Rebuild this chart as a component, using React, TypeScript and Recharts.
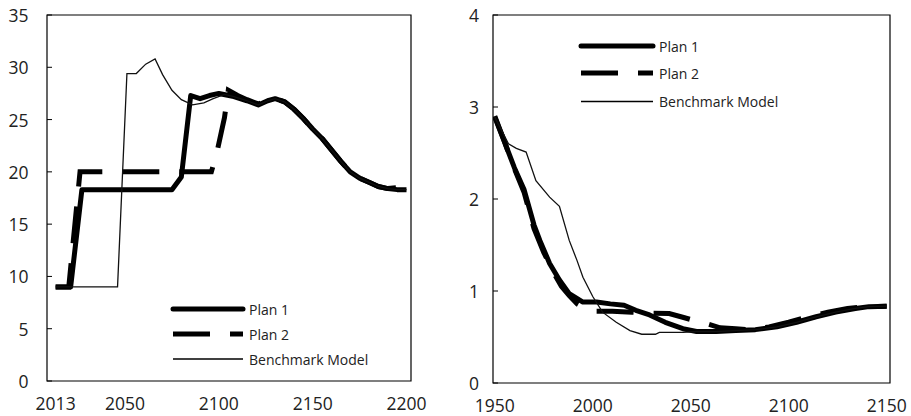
import React from "react";
import { LineChart, Line, XAxis, YAxis, Legend, ReferenceArea } from "recharts";

const FONT = "'Open Sans', sans-serif";

// left panel (2013-2200)
const leftXTicks = [2013, 2050, 2100, 2150, 2200];
const leftYTicks = [0, 5, 10, 15, 20, 25, 30, 35];

const leftPlan1Years = [2013, 2021, 2027, 2075, 2080, 2085, 2090, 2095, 2100, 2108, 2115, 2121, 2126, 2130, 2135, 2140, 2145, 2150, 2155, 2160, 2165, 2170, 2175, 2180, 2185, 2190, 2195, 2200];
const leftPlan1Values = [9, 9, 18.3, 18.3, 19.5, 27.3, 27.0, 27.3, 27.5, 27.2, 26.8, 26.4, 26.8, 27.0, 26.7, 26.0, 25.1, 24.1, 23.2, 22.1, 21.0, 20.0, 19.4, 19.0, 18.6, 18.4, 18.3, 18.3];

const leftPlan2Years = [2013, 2020, 2026, 2096, 2099, 2103, 2105, 2110, 2115, 2121, 2126, 2130, 2135, 2140, 2145, 2150, 2155, 2160, 2165, 2170, 2175, 2180, 2185, 2190, 2196];
const leftPlan2Values = [9, 9, 20, 20, 21.9, 25.2, 27.8, 27.3, 26.9, 26.5, 26.8, 27.0, 26.7, 26.0, 25.1, 24.1, 23.2, 22.1, 21.0, 20.0, 19.4, 19.0, 18.6, 18.4, 18.5];

const leftBenchYears = [2013, 2046, 2051, 2056, 2061, 2066, 2070, 2075, 2080, 2086, 2092, 2097, 2103, 2108, 2115, 2121, 2126, 2130, 2135, 2140, 2145, 2150, 2155, 2160, 2165, 2170, 2175, 2180, 2185, 2190, 2195, 2200];
const leftBenchValues = [9, 9, 29.4, 29.4, 30.3, 30.8, 29.3, 27.8, 26.9, 26.4, 26.6, 27.0, 27.4, 27.2, 26.8, 26.4, 26.8, 27.0, 26.7, 26.0, 25.1, 24.1, 23.2, 22.1, 21.0, 20.0, 19.4, 19.0, 18.6, 18.4, 18.3, 18.3];

// right panel (1950-2150)
const rightXTicks = [1950, 2000, 2050, 2100, 2150];
const rightYTicks = [0, 1, 2, 3, 4];

const rightPlan1Years = [1950, 1955, 1960, 1965, 1970, 1973, 1978, 1983, 1988, 1995, 2002, 2009, 2016, 2022, 2029, 2037, 2046, 2053, 2063, 2073, 2083, 2094, 2104, 2114, 2124, 2134, 2141, 2150];
const rightPlan1Values = [2.89, 2.62, 2.34, 2.1, 1.72, 1.55, 1.3, 1.12, 0.97, 0.88, 0.88, 0.86, 0.845, 0.79, 0.74, 0.66, 0.59, 0.56, 0.56, 0.57, 0.58, 0.61, 0.66, 0.72, 0.77, 0.81, 0.83, 0.835];

const rightPlan2Years = [1950, 1955, 1960, 1965, 1970, 1975, 1980, 1984, 1988, 1992, 1996, 2000, 2010, 2020, 2028, 2039, 2045, 2050, 2058, 2065, 2073, 2080, 2090, 2100, 2110, 2120, 2130, 2140, 2150];
const rightPlan2Values = [2.9, 2.62, 2.33, 2.07, 1.68, 1.42, 1.2, 1.05, 0.95, 0.86, 0.81, 0.78, 0.78, 0.77, 0.76, 0.755, 0.72, 0.69, 0.645, 0.6, 0.59, 0.58, 0.61, 0.66, 0.72, 0.77, 0.81, 0.83, 0.835];

const rightBenchYears = [1950, 1957, 1961, 1966, 1971, 1978, 1983, 1988, 1992, 1995, 2000, 2005, 2012, 2019, 2025, 2032, 2034, 2046, 2053, 2063, 2073, 2083, 2094, 2104, 2114, 2124, 2134, 2141, 2150];
const rightBenchValues = [2.89, 2.6, 2.55, 2.51, 2.2, 2.02, 1.92, 1.55, 1.33, 1.15, 0.94, 0.77, 0.66, 0.57, 0.53, 0.53, 0.55, 0.55, 0.56, 0.56, 0.57, 0.58, 0.61, 0.66, 0.72, 0.77, 0.81, 0.83, 0.835];

const SERIES = [
  { name: "Plan 1", width: 5, dash: undefined, cap: "round" },
  { name: "Plan 2", width: 5, dash: "37 20", cap: "butt" },
  { name: "Benchmark Model", width: 1.3, dash: undefined, cap: "butt" },
];

const toPoints = (xs: number[], ys: number[]) => xs.map((x, i) => ({ x, y: ys[i] }));

function LegendBox({ rowYs, lineLen }: { rowYs: number[]; lineLen: number }) {
  return (
    <svg width={lineLen + 130} height={80} style={{ overflow: "visible", display: "block" }}>
      {SERIES.map((s, i) => (
        <g key={s.name}>
          <line
            x1={3}
            x2={lineLen}
            y1={rowYs[i]}
            y2={rowYs[i]}
            stroke="#000"
            strokeWidth={s.width}
            strokeDasharray={s.dash}
            strokeLinecap={s.cap as any}
          />
          <text x={lineLen + 6} y={rowYs[i]} dominantBaseline="central" fontSize={14} fontFamily={FONT} fill="#222">
            {s.name}
          </text>
        </g>
      ))}
    </svg>
  );
}

// y tick: label plus a short inside tick mark
function YTick(props: any) {
  const { x, y, payload, margin } = props;
  const axisX = x + margin;
  return (
    <g>
      <line x1={axisX} x2={axisX + 5} y1={y} y2={y} stroke="#000" strokeWidth={1} />
      <text x={x} y={y} dy="0.4em" textAnchor="end" fontSize={17.5} fontFamily={FONT} fill="#222">
        {payload.value}
      </text>
    </g>
  );
}

interface PanelProps {
  width: number;
  margin: { top: number; right: number; bottom: number; left: number };
  yWidth: number;
  xHeight: number;
  xDomain: [number, number];
  yDomain: [number, number];
  xTicks: number[];
  yTicks: number[];
  yTickMargin: number;
  plan1: { x: number; y: number }[];
  plan2: { x: number; y: number }[];
  bench: { x: number; y: number }[];
  legendPos: { left: number; top: number };
  legendRows: number[];
  legendLen: number;
}

function Panel(p: PanelProps) {
  const tickStyle = { fontSize: 17.5, fill: "#222", fontFamily: FONT };
  return (
    <LineChart width={p.width} height={416} margin={p.margin}>
      <XAxis
        dataKey="x"
        type="number"
        domain={p.xDomain}
        ticks={p.xTicks}
        allowDataOverflow
        height={p.xHeight}
        stroke="#000"
        tickLine={false}
        tickSize={0}
        tickMargin={17}
        tick={tickStyle}
        axisLine={false}
        interval={0}
      />
      <YAxis
        type="number"
        domain={p.yDomain}
        ticks={p.yTicks}
        width={p.yWidth}
        tickSize={0}
        tickMargin={p.yTickMargin}
        tick={<YTick margin={p.yTickMargin} />}
        tickLine={false}
        axisLine={false}
        interval={0}
      />
      <ReferenceArea
        x1={p.xDomain[0]}
        x2={p.xDomain[1]}
        y1={p.yDomain[0]}
        y2={p.yDomain[1]}
        fill="#fff"
        fillOpacity={0}
        stroke="#000"
        strokeWidth={1.2}
        ifOverflow="visible"
      />
      <Line data={p.plan1} dataKey="y" type="linear" stroke="#000" strokeWidth={5} strokeLinejoin="round" dot={false} isAnimationActive={false} />
      <Line data={p.plan2} dataKey="y" type="linear" stroke="#000" strokeWidth={5} strokeDasharray="37 20" dot={false} isAnimationActive={false} />
      <Line data={p.bench} dataKey="y" type="linear" stroke="#111" strokeWidth={1.3} dot={false} isAnimationActive={false} />
      <Legend
        layout="horizontal"
        verticalAlign="middle"
        align="center"
        wrapperStyle={{ left: p.legendPos.left, top: p.legendPos.top, width: "auto", height: "auto" }}
        content={() => <LegendBox rowYs={p.legendRows} lineLen={p.legendLen} />}
      />
    </LineChart>
  );
}

export default function App() {
  return (
    <div style={{ position: "absolute", left: 0, top: 0, width: 911, height: 416, background: "#fff" }}>
      <div style={{ position: "absolute", left: 0, top: 0 }}>
        <Panel
          width={450}
          margin={{ top: 15, right: 39, bottom: 0, left: 0 }}
          yWidth={47}
          xHeight={35}
          xDomain={[2008.4, 2202.4]}
          yDomain={[0, 35]}
          xTicks={leftXTicks}
          yTicks={leftYTicks}
          yTickMargin={18.5}
          plan1={toPoints(leftPlan1Years, leftPlan1Values)}
          plan2={toPoints(leftPlan2Years, leftPlan2Values)}
          bench={toPoints(leftBenchYears, leftBenchValues)}
          legendPos={{ left: 170, top: 296 }}
          legendRows={[13, 38, 63]}
          legendLen={73}
        />
      </div>
      <div style={{ position: "absolute", left: 450, top: 0 }}>
        <Panel
          width={461}
          margin={{ top: 15, right: 21, bottom: 0, left: 0 }}
          yWidth={43}
          xHeight={33}
          xDomain={[1949.1, 2151.7]}
          yDomain={[0, 4]}
          xTicks={rightXTicks}
          yTicks={rightYTicks}
          yTickMargin={14}
          plan1={toPoints(rightPlan1Years, rightPlan1Values)}
          plan2={toPoints(rightPlan2Years, rightPlan2Values)}
          bench={toPoints(rightBenchYears, rightBenchValues)}
          legendPos={{ left: 128, top: 33 }}
          legendRows={[13, 40, 68.5]}
          legendLen={75}
        />
      </div>
    </div>
  );
}
